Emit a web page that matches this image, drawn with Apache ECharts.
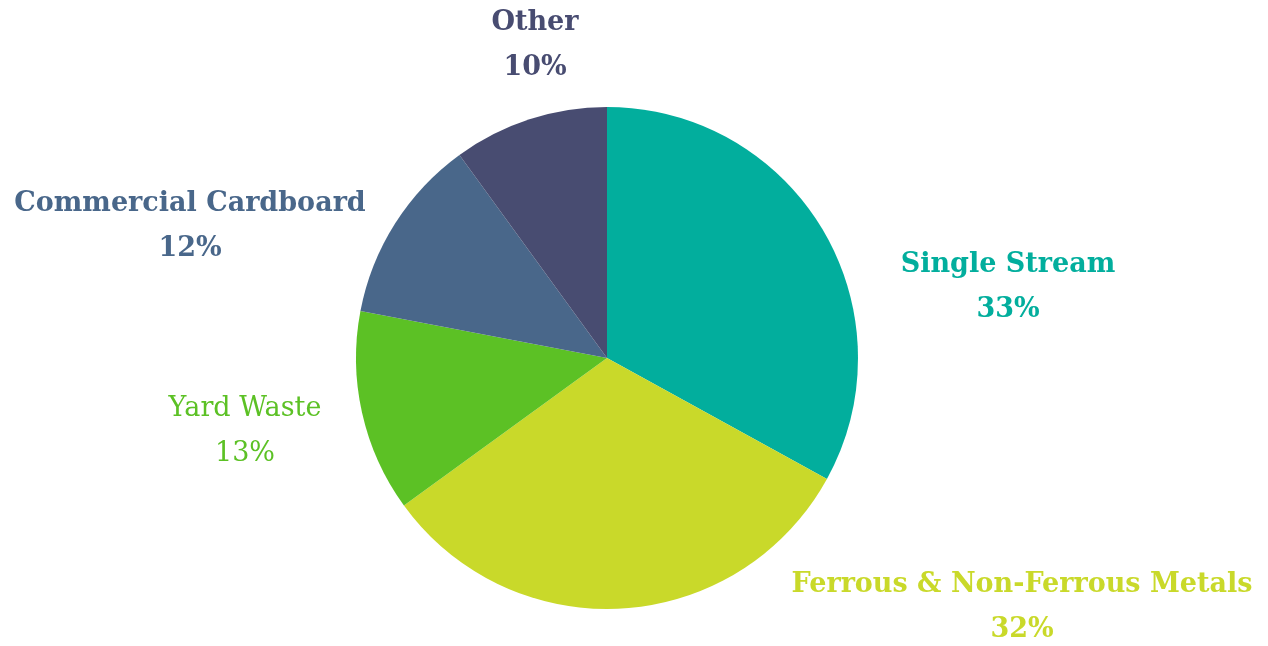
<!DOCTYPE html>
<html>
<head>
<meta charset="utf-8">
<script src="https://cdn.jsdelivr.net/npm/echarts@6/dist/echarts.min.js"></script>
<style>
  html, body { margin: 0; padding: 0; background: #fff; }
  #main { width: 1268px; height: 646px; }
</style>
</head>
<body>
<div id="main"></div>
<script>
var categories = ['Single Stream', 'Ferrous & Non-Ferrous Metals', 'Yard Waste', 'Commercial Cardboard', 'Other'];
var shares = [33, 32, 13, 12, 10];
var colors = ['#02ae9d', '#c9d92a', '#5cc125', '#49678a', '#484c71'];
var weights = ['bold', 'bold', 'normal', 'bold', 'bold'];

// label centres, offset from the pie centre
var labelOffsets = [[401, -71], [415, 249], [-362, 73], [-417, -132], [-72, -313]];
var cx = 607, cy = 358;

var pieData = categories.map(function (name, i) {
    return {
        name: name,
        value: shares[i],
        itemStyle: { color: colors[i] },
        label: { color: colors[i], fontWeight: weights[i] }
    };
});

var option = {
    animation: false,
    series: [{
        type: 'pie',
        center: [cx, cy],
        radius: 251,
        startAngle: 90,
        data: pieData,
        label: {
            show: true,
            position: 'outside',
            fontFamily: 'DejaVu Serif',
            fontSize: 27,
            lineHeight: 45,
            align: 'center',
            overflow: 'none',
            formatter: function (p) {
                return p.name + '\n' + p.value + '%';
            }
        },
        labelLine: { show: false },
        labelLayout: function (params) {
            var o = labelOffsets[params.dataIndex];
            return { x: cx + o[0], y: cy + o[1], align: 'center', verticalAlign: 'middle' };
        }
    }]
};

var myChart = echarts.init(document.getElementById('main'));
myChart.setOption(option);
</script>
</body>
</html>
